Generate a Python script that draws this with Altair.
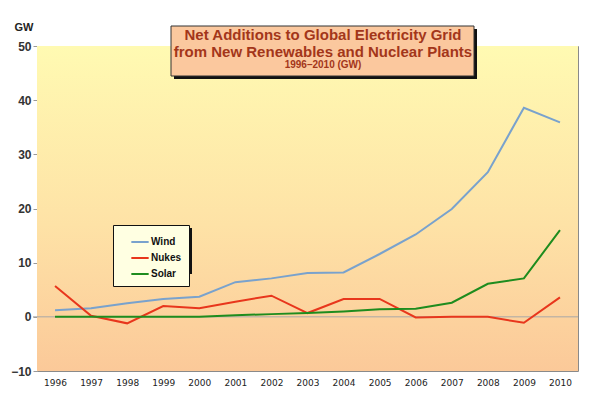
import altair as alt
import pandas as pd

years = list(range(1996, 2011))
wind = [1.2, 1.6, 2.5, 3.3, 3.7, 6.4, 7.1, 8.1, 8.2, 11.6, 15.2, 19.9, 26.7, 38.6, 35.9]
nukes = [5.7, 0.2, -1.2, 2.0, 1.6, 2.8, 3.9, 0.7, 3.3, 3.3, -0.1, 0.0, 0.0, -1.1, 3.6]
solar = [0.0, 0.0, 0.0, 0.0, 0.0, 0.3, 0.5, 0.7, 1.0, 1.4, 1.5, 2.6, 6.1, 7.1, 16.0]
series = ["Wind", "Nukes", "Solar"]
colors = ["#79A2CD", "#E8361C", "#1E8C1E"]
y_ticks = [-10, 0, 10, 20, 30, 40, 50]
title_lines = ["Net Additions to Global Electricity Grid",
               "from New Renewables and Nuclear Plants",
               "1996\u20132010 (GW)"]

rows = []
for name, vals in zip(series, [wind, nukes, solar]):
    for yr, v in zip(years, vals):
        rows.append({"year": yr, "series": name, "value": v})
df = pd.DataFrame(rows)

W, H = 541, 325
one = alt.Data(values=[{}])

grad = alt.LinearGradient(
    gradient="linear",
    stops=[alt.GradientStop(color="#FFFAB2", offset=0),
           alt.GradientStop(color="#FEE2A6", offset=0.55),
           alt.GradientStop(color="#FBC999", offset=1)],
    x1=0, x2=0, y1=0, y2=1)

bg = alt.Chart(one).mark_rect(color=grad).encode(
    x=alt.value(0), x2=alt.value(W), y=alt.value(0), y2=alt.value(H))

zero = alt.Chart(one).mark_rule(color="#A8A8A8", strokeWidth=1).encode(
    y=alt.datum(0), x=alt.value(-4), x2=alt.value(W))

lines = alt.Chart(df).mark_line(strokeWidth=2).encode(
    x=alt.X("year:O", title=None,
            axis=alt.Axis(labelAngle=0, ticks=False, domain=False,
                          labelFont="DejaVu Sans", labelFontSize=9,
                          labelColor="#222222", labelPadding=7)),
    y=alt.Y("value:Q",
            scale=alt.Scale(domain=[-10, 50], nice=False),
            axis=alt.Axis(values=y_ticks, grid=False, title="GW",
                          titleAngle=0, titleX=-4, titleY=-14,
                          titleAlign="right", titleFont="Arial",
                          titleFontSize=11, titleFontWeight="bold",
                          titleColor="#222222",
                          labelFont="Arial", labelFontSize=12,
                          labelFontWeight="bold", labelColor="#333333",
                          labelPadding=2, tickSize=4, tickColor="#999999",
                          domainColor="#999999")),
    color=alt.Color("series:N",
                    scale=alt.Scale(domain=series, range=colors),
                    sort=series,
                    legend=alt.Legend(title=None, orient="none",
                                      legendX=76, legendY=179,
                                      fillColor="#FFFFE2", strokeColor="#111111",
                                      padding=7, symbolType="stroke",
                                      symbolSize=300, symbolStrokeWidth=2,
                                      symbolOffset=10,
                                      labelFont="Arial", labelFontSize=10,
                                      labelFontWeight="bold", labelColor="#111111",
                                      labelOffset=1, rowPadding=1)),
)

leg_shadow = alt.Chart(one).mark_rect(color="#111111").encode(
    x=alt.value(79), x2=alt.value(155), y=alt.value(182), y2=alt.value(228))

tb_shadow = alt.Chart(one).mark_rect(color="#111111").encode(
    x=alt.value(137), x2=alt.value(440), y=alt.value(-17), y2=alt.value(33))
tb = alt.Chart(one).mark_rect(color="#FBC89E", stroke="#333333", strokeWidth=1).encode(
    x=alt.value(134), x2=alt.value(437), y=alt.value(-20), y2=alt.value(30))

t1 = alt.Chart(one).mark_text(font="Arial", fontSize=15, fontWeight="bold",
                              color="#A3361A", baseline="middle").encode(
    x=alt.value(286), y=alt.value(-11), text=alt.value(title_lines[0]))
t2 = alt.Chart(one).mark_text(font="Arial", fontSize=15, fontWeight="bold",
                              color="#A3361A", baseline="middle").encode(
    x=alt.value(286), y=alt.value(6), text=alt.value(title_lines[1]))
t3 = alt.Chart(one).mark_text(font="Arial", fontSize=10, fontWeight="bold",
                              color="#A3361A", baseline="middle").encode(
    x=alt.value(286), y=alt.value(19), text=alt.value(title_lines[2]))

chart = alt.layer(bg, zero, lines, leg_shadow, tb_shadow, tb, t1, t2, t3).properties(
    width=W, height=H,
    autosize=alt.AutoSizeParams(type="none"),
    padding={"left": 29, "top": 38, "right": 10, "bottom": 18},
    background="white",
).configure_view(stroke="#8A8A8A", strokeWidth=1)

chart.save("out.html", embed_options={"renderer": "svg", "actions": False})
